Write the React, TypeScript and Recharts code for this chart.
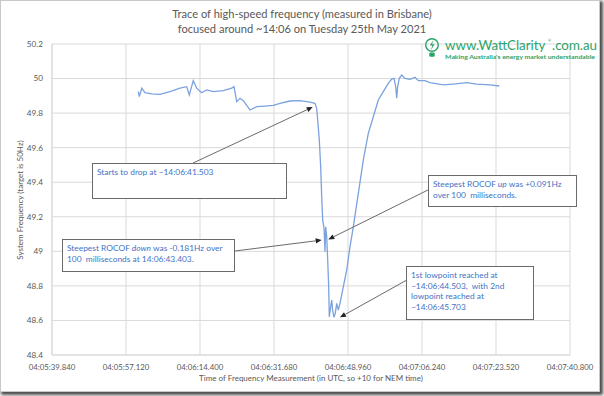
import React from 'react';
import { LineChart, Line, XAxis, YAxis, CartesianGrid, ReferenceLine } from 'recharts';

// Seconds after 04:05:39.840 UTC
const timeSec = [
  20.15, 20.39, 20.95, 21.72, 23.28, 25.22, 27.55, 29.89, 31.45, 32.06, 32.99, 33.79, 34.96, 36.12, 37.67,
  40.0, 41.96, 42.5, 43.13, 43.9, 44.67, 46.24, 47.8, 49.74, 51.68, 53.24, 55.58, 57.91, 60.25, 61.41,
  61.81, 62.04, 62.42, 62.74, 62.98, 63.21, 63.52, 63.75, 63.91, 64.15, 64.38, 64.61, 64.75, 65.07, 65.31,
  65.54, 65.85, 66.15, 66.48, 66.85, 67.25, 68.02, 68.82, 69.59, 70.36, 71.53, 72.69, 73.86, 75.03, 76.2,
  77.36, 78.53, 79.32, 79.86, 80.26, 80.49, 80.72, 81.1, 81.66, 82.43, 83.6, 84.77, 85.54, 87.1, 88.27,
  91.37, 93.71, 96.84, 99.17, 102.28, 104.45,
];
const freqHz = [
  49.924, 49.895, 49.944, 49.918, 49.911, 49.909, 49.924, 49.944, 49.953, 49.905, 49.988, 49.944, 49.918, 49.934, 49.924,
  49.93, 49.944, 49.953, 49.866, 49.886, 49.872, 49.818, 49.837, 49.841, 49.845, 49.857, 49.87, 49.872, 49.864, 49.857,
  49.828, 49.76, 49.644, 49.49, 49.316, 49.181, 49.133, 48.998, 49.142, 49.084, 48.95, 48.795, 48.621, 48.679, 48.718,
  48.66, 48.618, 48.641, 48.699, 48.66, 48.699, 48.795, 48.892, 49.027, 49.142, 49.336, 49.528, 49.683, 49.779, 49.876,
  49.924, 49.972, 49.997, 50.001, 49.953, 49.886, 49.953, 50.001, 50.021, 50.001, 49.996, 50.007, 49.988, 49.988, 49.976,
  49.963, 49.968, 49.976, 49.968, 49.963, 49.957,
];

const xTickSec = [0, 17.28, 34.56, 51.84, 69.12, 86.4, 103.68, 120.96];
const xTickLabels = [
  '04:05:39.840', '04:05:57.120', '04:06:14.400', '04:06:31.680',
  '04:06:48.960', '04:07:06.240', '04:07:23.520', '04:07:40.800',
];
const yTicks = [48.4, 48.6, 48.8, 49, 49.2, 49.4, 49.6, 49.8, 50, 50.2];
const yTickLabels = ['48.4', '48.6', '48.8', '49', '49.2', '49.4', '49.6', '49.8', '50', '50.2'];

// Arrow segments: [fromTime, fromFreq, toTime, toFreq]
const arrowFromT = [32.93, 87.8, 42.73, 82.87];
const arrowFromF = [49.511, 49.355, 49.002, 48.834];
const arrowToT = [60.88, 64.52, 62.98, 67.25];
const arrowToF = [49.835, 49.069, 49.065, 48.618];

const data = timeSec.map((t, i) => ({ t, f: freqHz[i] }));

const FONT = 'Lato, "Open Sans", sans-serif';
const GREY = '#595959';
const BLUE_TEXT = '#4472C4';
const GREEN = '#2ba36a';

const fmtX = (v: number) => {
  let best = 0;
  xTickSec.forEach((s, i) => { if (Math.abs(s - v) < Math.abs(xTickSec[best] - v)) best = i; });
  return xTickLabels[best];
};
const fmtY = (v: number) => {
  let best = 0;
  yTicks.forEach((s, i) => { if (Math.abs(s - v) < Math.abs(yTicks[best] - v)) best = i; });
  return yTickLabels[best];
};

const ArrowShape = (props: any) => {
  const { x1, y1, x2, y2 } = props;
  if ([x1, y1, x2, y2].some((v) => typeof v !== 'number' || isNaN(v))) return null;
  const ang = Math.atan2(y2 - y1, x2 - x1);
  const L = 6;
  const W = 2.6;
  const bx = x2 - L * Math.cos(ang);
  const by = y2 - L * Math.sin(ang);
  const px = -Math.sin(ang) * W;
  const py = Math.cos(ang) * W;
  return (
    <g>
      <line x1={x1} y1={y1} x2={bx} y2={by} stroke="#6b6b6b" strokeWidth={1} />
      <polygon points={`${x2},${y2} ${bx + px},${by + py} ${bx - px},${by - py}`} fill="#222" />
    </g>
  );
};

const boxBase: React.CSSProperties = {
  position: 'absolute',
  background: '#fff',
  border: '1.4px solid #6a6a6a',
  boxSizing: 'border-box',
  color: BLUE_TEXT,
  fontFamily: FONT,
  fontSize: 8.4,
  lineHeight: '10.7px',
  whiteSpace: 'nowrap',
  padding: '3px 4px',
};

export default function App() {
  return (
    <div style={{ position: 'absolute', left: 0, top: 0, width: 604, height: 396, background: '#fff' }}>
      <div
        style={{
          position: 'absolute', left: 0, top: 0, width: 600, height: 392,
          border: '1px solid #c8c8c8', boxSizing: 'border-box',
          boxShadow: '2px 2px 3px 1px #4a4a4a', background: '#fff',
        }}
      />
      <div style={{ position: 'absolute', left: 0, top: 0 }}>
        <LineChart width={604} height={396} data={data} margin={{ top: 44, right: 34, bottom: 0, left: 0 }}>
          <CartesianGrid stroke="#d9d9d9" strokeWidth={1} verticalValues={xTickSec} horizontalValues={yTicks} />
          <XAxis
            dataKey="t"
            type="number"
            domain={[0, 120.96]}
            ticks={xTickSec}
            tickFormatter={fmtX}
            height={41}
            axisLine={{ stroke: '#d9d9d9' }}
            tickLine={false}
            tickMargin={3}
            tick={{ fill: GREY, fontSize: 7.8, fontFamily: FONT }}
            interval={0}
            allowDataOverflow
          />
          <YAxis
            type="number"
            domain={[48.4, 50.2]}
            ticks={yTicks}
            tickFormatter={fmtY}
            width={52}
            axisLine={{ stroke: '#d9d9d9' }}
            tickLine={false}
            tickMargin={3}
            tick={{ fill: GREY, fontSize: 8.2, fontFamily: FONT }}
            interval={0}
            allowDataOverflow
          />
          <Line
            dataKey="f"
            type="linear"
            stroke="#7ba2df"
            strokeWidth={1.3}
            dot={false}
            isAnimationActive={false}
          />
          {arrowFromT.map((t, i) => (
            <ReferenceLine
              key={i}
              segment={[{ x: t, y: arrowFromF[i] }, { x: arrowToT[i], y: arrowToF[i] }]}
              ifOverflow="visible"
              shape={ArrowShape}
            />
          ))}
        </LineChart>
      </div>

      <svg width={604} height={396} style={{ position: 'absolute', left: 0, top: 0, pointerEvents: 'none' }}>
        <text x={302} y={18} textAnchor="middle" fill={GREY} fontFamily={FONT} fontSize={11.1}>
          Trace of high-speed frequency (measured in Brisbane)
        </text>
        <text x={302} y={32.5} textAnchor="middle" fill={GREY} fontFamily={FONT} fontSize={11.1}>
          focused around ~14:06 on Tuesday 25th May 2021
        </text>
        <text x={311} y={381} textAnchor="middle" fill={GREY} fontFamily={FONT} fontSize={8}>
          Time of Frequency Measurement (in UTC, so +10 for NEM time)
        </text>
        <text
          x={0} y={0} textAnchor="middle" fill={GREY} fontFamily={FONT} fontSize={8}
          transform="translate(23,200) rotate(-90)"
        >
          System Frequency (target is 50Hz)
        </text>

        {/* logo */}
        <g>
          <circle cx={432} cy={45} r={6.3} fill="none" stroke={GREEN} strokeWidth={1.4} />
          <path d="M433.6,39.8 L429.8,45.6 L432.4,45.6 L430.6,50.4 L434.6,44.2 L432.0,44.2 Z" fill={GREEN} />
          <rect x={429.3} y={52.5} width={5.4} height={4.2} rx={1.2} fill={GREEN} />
        </g>
        <text x={445} y={50} fill={GREEN} fontFamily={FONT} fontSize={13.3}>
          www.WattClarity
        </text>
        <text x={547.8} y={42} fill={GREEN} fontFamily={FONT} fontSize={4.2}>®</text>
        <text x={552} y={50} fill={GREEN} fontFamily={FONT} fontSize={13.3}>
          .com.au
        </text>
        <text x={445} y={58.5} fill={GREEN} fontFamily={FONT} fontSize={5.6} fontWeight="bold" textLength={150} lengthAdjust="spacingAndGlyphs">
          Making Australia's energy market understandable
        </text>
      </svg>

      <div style={{ ...boxBase, left: 92, top: 163, width: 195, height: 36 }}>
        Starts to drop at ~14:06:41.503
      </div>
      <div style={{ ...boxBase, left: 428, top: 175, width: 149, height: 32 }}>
        Steepest ROCOF <i>up</i> was +0.091Hz
        <br />
        over 100&nbsp; milliseconds.
      </div>
      <div style={{ ...boxBase, left: 62, top: 239, width: 173, height: 33 }}>
        Steepest ROCOF <i>down</i> was -0.181Hz over
        <br />
        100&nbsp; milliseconds at 14:06:43.403.
      </div>
      <div style={{ ...boxBase, left: 406, top: 266, width: 128, height: 54 }}>
        1st lowpoint reached at
        <br />
        ~14:06:44.503,&nbsp; with 2nd
        <br />
        lowpoint reached at
        <br />
        ~14:06:45.703
      </div>
    </div>
  );
}
